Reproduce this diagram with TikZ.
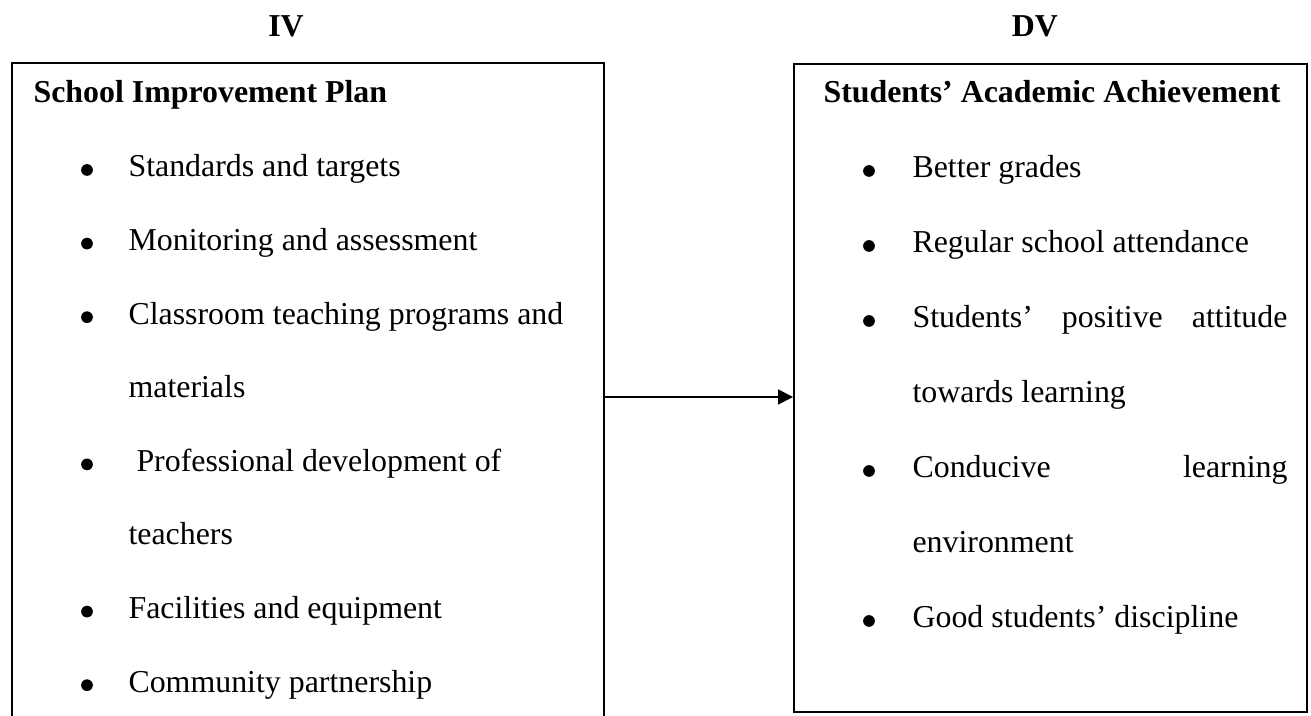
\documentclass[tikz,border=0pt]{standalone}
\usepackage{fontspec}
\setmainfont{Liberation Serif}
\usepackage{tikz}
\usetikzlibrary{positioning}
\usetikzlibrary{arrows.meta,fit}

\begin{document}
\begin{tikzpicture}[x=0.367pt, y=-0.367pt,
	font=\fontsize{11.7}{14}\selectfont,
	box/.style={draw, line width=0.6pt, inner sep=0pt},
	head/.style={font=\fontsize{11.7}{14}\selectfont\bfseries, anchor=base west, inner sep=0pt},
	label/.style={font=\fontsize{11.7}{14}\selectfont\bfseries, anchor=base, inner sep=0pt},
	item/.style={anchor=base west, inner sep=0pt},
	dot/.style={circle, fill, inner sep=0pt, minimum size=4.3pt},
	link/.style={line width=0.6pt, -{Triangle[length=5.5pt,width=5.4pt]}}]

	% ------------------------------------------------
	% Size of the page
	\useasboundingbox (0,0) rectangle (1311,716);

	% ------------------------------------------------
	% Corners of the two boxes
	\coordinate (IVnw) at (12,63);
	\coordinate (IVse) at (604,731);
	\coordinate (DVnw) at (794,64);
	\coordinate (DVse) at (1307,712);

	\node[box, fit=(IVnw)(IVse)] (IVbox) {};
	\node[box, fit=(DVnw)(DVse)] (DVbox) {};

	% ----------------
	% Labels on top
	\node[label] (IVlabel) at (286,37) {IV};
	\node[label] (DVlabel) at (1035,37) {DV};

	%%%%%%%%%%%%%%%%%%%%%%%%%%%%%%%%%%%%%%%%%
	% Independent variable
	\node[head] (IVhead) at (33,103) {School Improvement Plan};

	\foreach \row/\txt in {0/Standards and targets, 1/Monitoring and assessment,
		2/Classroom teaching programs and, 4/\ Professional development of,
		6/Facilities and equipment, 7/Community partnership} {
		\node[dot] (IVdot\row) at (87,170+73.6*\row) {};
		\node[item] (IVitem\row) at (128,177+73.6*\row) {\txt};
	}
	\foreach \row/\txt in {3/materials, 5/teachers}
		\node[item] (IVitem\row) at (128,177+73.6*\row) {\txt};

	%%%%%%%%%%%%%%%%%%%%%%%%%%%%%%%%%%%%%%%%%
	% Dependent variable
	\node[head] (DVhead) at (823,103) {Students' Academic Achievement};

	\foreach \row/\txt in {0/Better grades, 1/Regular school attendance,
		2/\makebox[137.6pt][s]{Students' positive attitude},
		4/\makebox[137.6pt][s]{Conducive learning},
		6/Good students' discipline} {
		\node[dot] (DVdot\row) at (869,171+75*\row) {};
		\node[item] (DVitem\row) at (912,178+75*\row) {\txt};
	}
	\foreach \row/\txt in {3/towards learning, 5/environment}
		\node[item] (DVitem\row) at (912,178+75*\row) {\txt};

	% ----------------
	% Arrow
	\draw[link] (IVbox.east) -- (IVbox.east -| DVbox.west);

\end{tikzpicture}
\end{document}
